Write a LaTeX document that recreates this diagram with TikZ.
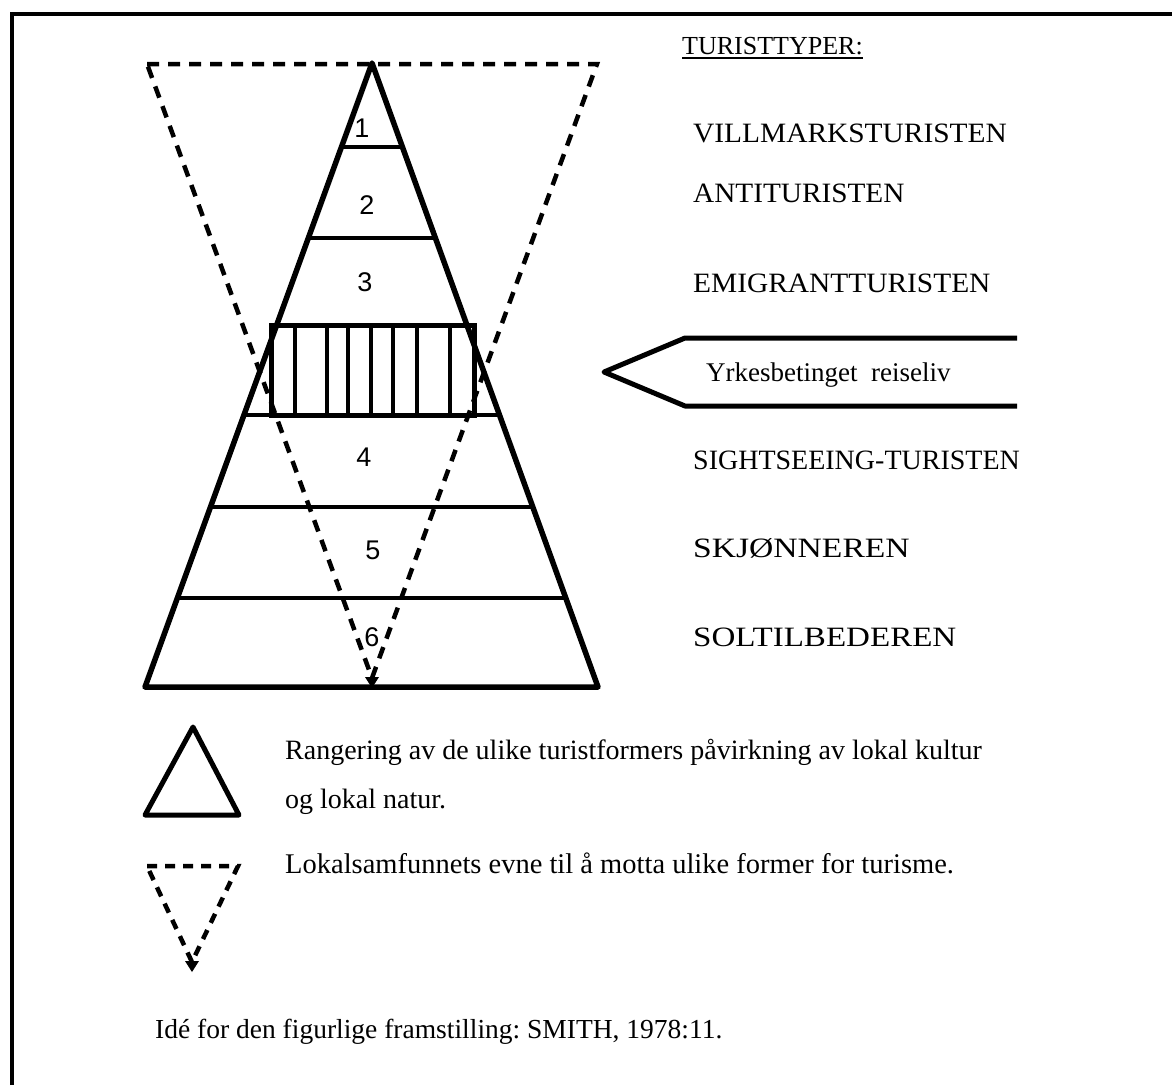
\documentclass[tikz,border=0pt]{standalone}
\usepackage{fontspec}
\setmainfont{Liberation Serif}
\newfontfamily\numfont{Liberation Sans}
\usetikzlibrary{calc}
\frenchspacing
\begin{document}
\begin{tikzpicture}[x=1pt,y=-1pt,
  frameline/.style={line width=4.5pt},
  solidside/.style={line width=5.5pt, line join=round},
  levelline/.style={line width=4pt},
  stripe/.style={line width=4pt},
  dashline/.style={line width=4.5pt, dash pattern=on 12pt off 9pt},
  smalldash/.style={line width=4.5pt, dash pattern=on 10pt off 8pt},
  lbl/.style={anchor=base west, inner sep=0pt, font=\fontsize{28}{32}\selectfont},
  num/.style={inner sep=0pt, font=\numfont\fontsize{27}{30}\selectfont}]
\fill[white] (0,0) rectangle (1172,1085);
\useasboundingbox (0,0) rectangle (1172,1085);
% frame
\draw[frameline] (12,1085) -- (12,14) -- (1172,14);
% coordinates of the pyramid
\coordinate (A) at (372,63);
\coordinate (BL) at (145,687);
\coordinate (BR) at (598,687);
% dashed inverted triangle
\coordinate (DL) at (147,64);
\coordinate (DR) at (597,64);
\coordinate (DB) at (372,678);
\draw[dashline] (DL) -- (DR) -- (DB) -- cycle;
\fill (365,677) -- (379,677) -- (372,688) -- cycle;
% levels
\foreach \t in {0.1346,0.2804,0.5641,0.7115,0.8574}{
  \draw[levelline] ($(A)!\t!(BL)$) -- ($(A)!\t!(BR)$);
}
% striped rectangle
\coordinate (R1) at (271,325);
\coordinate (R2) at (474,415);
\draw[line width=5pt] (R1) rectangle (R2);
\foreach \x in {295,327,348,371,393,417,450}{
  \draw[stripe] (\x,325) -- (\x,415);
}
% solid triangle
\draw[solidside] (A) -- (BL) -- (BR) -- cycle;
% numbers
\node[num] (n1) at (362,128) {1};
\node[num] (n2) at (367,205) {2};
\node[num] (n3) at (365,282) {3};
\node[num] (n4) at (364,457) {4};
\node[num] (n5) at (373,550) {5};
\node[num] (n6) at (372,637) {6};
% right labels
\node[lbl, font=\fontsize{26}{30}\selectfont] (tt) at (682,54) {TURISTTYPER:};
\draw[line width=1.5pt] ([yshift=-4pt]tt.base west) -- ([yshift=-4pt]tt.base east);
\node[lbl] (l1) at (693,142) {\scalebox{1.05}[1]{VILLMARKSTURISTEN}};
\node[lbl] (l2) at (693,202) {\scalebox{1.045}[1]{ANTITURISTEN}};
\node[lbl] (l3) at (693,292) {\scalebox{1.05}[1]{EMIGRANTTURISTEN}};
\node[lbl] (l4) at (693,469) {SIGHTSEEING-TURISTEN};
\node[lbl] (l5) at (693,557) {\scalebox{1.2}[1]{SKJ\O NNEREN}};
\node[lbl] (l6) at (693,646) {\scalebox{1.18}[1]{SOLTILBEDEREN}};
% arrow shape
\coordinate (P1) at (1017,338);
\coordinate (P2) at (685,338);
\coordinate (P3) at (604,372);
\coordinate (P4) at (685,406);
\coordinate (P5) at (1017,406);
\draw[line width=5pt, line join=round] (P1) -- (P2) -- (P3) -- (P4) -- (P5);
\node[lbl, font=\fontsize{27}{30}\selectfont] (yr) at (706,381) {Yrkesbetinget\ \ reiseliv};
% legend
\coordinate (LA) at (193,727);
\coordinate (LB) at (145,815);
\coordinate (LC) at (239,815);
\draw[solidside, line width=5pt] (LA) -- (LB) -- (LC) -- cycle;
\node[lbl] (t1) at (285,759) {Rangering av de ulike turistformers påvirkning av lokal kultur};
\node[lbl] (t2) at (285,808) {og lokal natur.};
\coordinate (MA) at (147,866);
\coordinate (MB) at (238,866);
\coordinate (MC) at (192,962);
\draw[smalldash] (MA) -- (MB) -- (MC) -- cycle;
\fill (185,961) -- (199,961) -- (192,972) -- cycle;
\node[lbl, font=\fontsize{28.5}{32}\selectfont] (t3) at (285,873) {Lokalsamfunnets evne til å motta ulike former for turisme.};
\node[lbl, font=\fontsize{27.5}{32}\selectfont] (t4) at (155,1038) {Idé for den figurlige framstilling: SMITH, 1978:11.};
\end{tikzpicture}
\end{document}
